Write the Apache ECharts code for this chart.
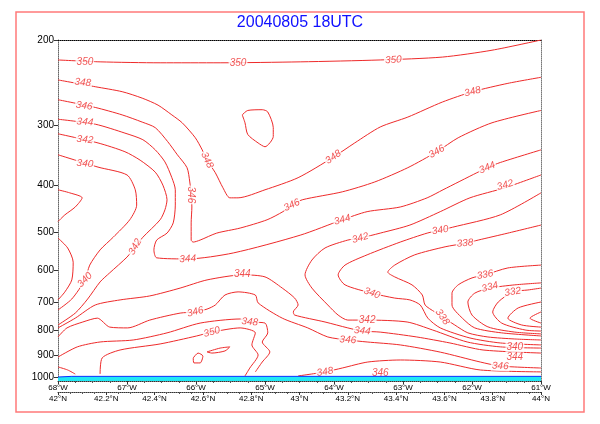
<!DOCTYPE html>
<html><head><meta charset="utf-8">
<script src="https://cdn.jsdelivr.net/npm/echarts@6/dist/echarts.min.js"></script>
<style>html,body{margin:0;padding:0;background:#fff}#c{width:600px;height:424px}</style>
</head><body><div id="c"></div>
<script>
// ---- axis ticks ----
const pressureTicks = [200, 300, 400, 500, 600, 700, 800, 900, 1000];
const lonRange = [-68, -61];
const latRange = [42, 44];

// ---- contour lines: [longitude (deg E, negative = W), pressure hPa] ----
const c350Top = [[-68.00,220],[-67.39,222],[-66.52,223],[-65.65,223],[-64.49,222],[-63.33,220],[-62.43,217],[-61.71,210],[-61.00,200]];
const c350Loop = [[-65.33,286],[-65.25,280],[-65.04,279],[-64.96,282],[-64.88,304],[-64.88,317],[-65.00,333],[-65.10,327],[-65.25,314],[-65.29,297],[-65.33,286]];
const c348 = [[-68.00,242],[-67.46,250],[-67.07,256],[-66.78,264],[-66.55,273],[-66.35,286],[-66.20,297],[-66.01,319],[-65.91,338],[-65.84,355],[-65.72,377],[-65.61,405],[-65.51,425],[-65.39,425],[-65.00,409],[-64.52,386],[-64.01,350],[-63.70,327],[-63.33,303],[-62.93,289],[-62.43,269],[-61.99,256],[-61.48,246],[-61.00,239]];
const c346 = [[-68.00,266],[-67.46,276],[-67.07,286],[-66.78,296],[-66.59,304],[-66.41,325],[-66.27,346],[-66.13,368],[-66.09,394],[-66.07,419],[-66.06,444],[-66.07,479],[-66.07,520],[-66.04,525],[-65.94,520],[-65.70,503],[-65.36,491],[-64.97,472],[-64.74,454],[-64.61,440],[-64.46,429],[-63.88,413],[-63.41,394],[-62.93,368],[-62.51,341],[-62.20,319],[-61.71,297],[-61.00,280]];
const c344 = [[-68.00,292],[-67.46,299],[-67.03,312],[-66.77,322],[-66.59,338],[-66.45,358],[-66.35,386],[-66.30,409],[-66.30,440],[-66.33,479],[-66.42,503],[-66.57,520],[-66.61,545],[-66.57,566],[-66.12,569],[-65.46,553],[-64.49,508],[-63.88,472],[-63.52,454],[-63.04,444],[-62.65,425],[-62.42,409],[-61.93,377],[-61.78,368],[-61.59,359],[-61.00,338]];
const c342Left = [[-68.00,313],[-67.42,327],[-67.03,341],[-66.81,355],[-66.59,376],[-66.48,400],[-66.42,429],[-66.45,450],[-66.52,472],[-66.77,513],[-66.88,537],[-67.00,564],[-67.25,608],[-67.39,635],[-67.57,689],[-67.75,737],[-68.00,780]];
const c340Left = [[-68.00,346],[-67.42,367],[-67.00,381],[-66.88,409],[-66.86,440],[-66.96,472],[-67.20,513],[-67.39,545],[-67.54,586],[-67.61,629],[-67.80,689],[-68.00,726]];
const c338LoopA = [[-68.00,409],[-67.83,415],[-67.65,425],[-67.75,444],[-67.90,461],[-68.00,476]];
const c338Bump = [[-68.00,515],[-67.86,540],[-67.78,578],[-67.80,629],[-67.90,666],[-68.00,692]];
const c344Low = [[-68.00,791],[-67.75,755],[-67.46,709],[-67.10,692],[-66.67,679],[-66.23,654],[-65.84,629],[-65.32,614],[-65.00,620],[-64.75,654],[-64.57,686],[-64.52,709],[-64.59,733],[-64.57,744],[-64.13,769],[-63.80,791],[-63.59,803],[-63.33,807],[-62.80,826],[-62.32,850],[-61.84,879],[-61.00,892]];
const c342Right = [[-61.00,381],[-61.52,405],[-62.03,425],[-62.46,454],[-62.90,484],[-63.33,503],[-63.62,515],[-63.80,520],[-64.13,540],[-64.32,572],[-64.42,614],[-64.32,654],[-64.09,709],[-63.94,744],[-63.80,762],[-63.52,762],[-62.94,769],[-62.57,799],[-62.07,846],[-61.59,866],[-61.00,871]];
const c340Right = [[-61.00,415],[-61.59,461],[-62.28,489],[-62.46,496],[-62.65,503],[-63.04,525],[-63.52,558],[-63.84,586],[-63.94,614],[-63.84,644],[-63.45,670],[-63.12,686],[-62.90,692],[-62.75,709],[-62.64,755],[-62.46,791],[-62.03,830],[-61.59,850],[-61.00,858]];
const c338 = [[-61.00,484],[-61.48,503],[-61.91,520],[-62.10,528],[-62.39,537],[-62.83,558],[-63.12,586],[-63.22,606],[-63.12,620],[-62.87,644],[-62.72,676],[-62.68,709],[-62.54,733],[-62.43,751],[-62.25,780],[-62.06,810],[-61.77,826],[-61.38,834],[-61.00,838]];
const c336 = [[-61.00,586],[-61.48,594],[-61.81,614],[-62.00,623],[-62.20,644],[-62.29,670],[-62.29,709],[-62.14,755],[-61.96,791],[-61.57,810],[-61.00,822]];
const c334 = [[-61.00,638],[-61.38,644],[-61.74,654],[-61.96,670],[-62.06,699],[-62.00,744],[-61.77,787],[-61.38,807],[-61.00,814]];
const c332 = [[-61.00,654],[-61.19,660],[-61.41,666],[-61.62,699],[-61.70,733],[-61.57,773],[-61.23,799],[-61.00,803]];
const c330 = [[-61.00,699],[-61.33,719],[-61.48,755],[-61.28,780],[-61.00,788]];
const c328 = [[-61.00,733],[-61.16,755],[-61.00,773]];
const c346Low = [[-68.00,826],[-67.87,791],[-67.64,769],[-67.43,755],[-67.25,788],[-66.99,791],[-66.67,762],[-66.23,737],[-66.01,733],[-65.84,723],[-65.72,709],[-65.58,676],[-65.39,666],[-65.14,676],[-65.10,702],[-64.75,755],[-64.38,791],[-64.09,826],[-63.80,838],[-63.52,846],[-63.04,858],[-62.46,888],[-61.88,931],[-61.59,949],[-61.00,958]];
const c348Low = [[-68.00,909],[-67.72,866],[-67.39,846],[-66.91,838],[-66.42,810],[-65.94,773],[-65.36,758],[-65.22,769],[-65.00,773],[-64.96,810],[-65.04,846],[-64.93,887],[-65.04,931],[-65.14,976]];
const c348Bottom = [[-64.52,995],[-64.13,976],[-63.88,958],[-63.51,931],[-63.04,922],[-62.46,931],[-61.88,967],[-61.00,976]];
const c350Low = [[-67.39,986],[-67.36,913],[-67.10,879],[-66.52,854],[-65.99,822],[-65.77,807],[-65.36,791],[-65.14,810],[-65.19,858],[-65.10,900],[-65.22,958],[-65.29,995]];
const c350LoopA = [[-66.04,913],[-65.97,892],[-65.90,905],[-65.94,935],[-66.03,935],[-66.04,913]];
const c350LoopB = [[-65.84,887],[-65.65,871],[-65.51,866],[-65.58,883],[-65.77,892],[-65.84,887]];
const c352Corner = [[-68.00,953],[-67.86,967],[-67.75,986]];
const surface = [[-68.00,1000],[-67.80,997],[-61.00,997]];

// ---- contour labels: [lon, pressure, text] ----
const contourLabels = [
  [-67.61,222,'350'],[-65.39,223,'350'],[-63.14,220,'350'],
  [-67.64,245,'348'],[-65.84,355,'348'],[-64.01,350,'348'],[-61.99,256,'348'],
  [-67.62,274,'346'],[-66.07,419,'346'],[-64.61,440,'346'],[-62.51,341,'346'],
  [-67.61,296,'344'],[-66.12,569,'344'],[-63.88,472,'344'],[-61.78,368,'344'],
  [-65.33,611,'344'],[-63.59,803,'344'],[-61.38,910,'344'],
  [-67.61,322,'342'],[-66.88,537,'342'],[-63.62,515,'342'],[-61.52,400,'342'],[-63.52,762,'342'],
  [-67.61,361,'340'],[-67.61,629,'340'],[-62.46,496,'340'],[-63.45,670,'340'],[-61.38,866,'340'],
  [-62.10,528,'338'],[-62.43,751,'338'],
  [-61.81,614,'336'],[-61.74,651,'334'],[-61.41,666,'332'],
  [-66.01,733,'346'],[-63.80,838,'346'],[-61.59,949,'346'],[-63.33,980,'346'],
  [-65.22,769,'348'],[-64.13,976,'348'],
  [-65.77,807,'350']
];
const labelAngles = [0,0,3, -5,-65,35,15, -8,-90,25,30, -5,3,15,22, 0,-5,0, -5,60,15,15,0, -5,45,10,-20,0, 5,-55, 10,15,10, 15,-3,-3,0, -5,10, 15];

const contourLines = [c350Top,c350Loop,c348,c346,c344,c342Left,c340Left,c338LoopA,c338Bump,c344Low,c342Right,c340Right,c338,c336,c334,c332,c330,c328,c346Low,c348Low,c348Bottom,c350Low,c350LoopA,c350LoopB,c352Corner];

const RED = '#ee2a2a';
const chart = echarts.init(document.getElementById('c'), null, {renderer:'canvas'});
const yMax = 1019.3;
const FONT = 'Liberation Sans';

const series = contourLines.map(pts => ({
  type:'line', data:pts, xAxisIndex:0, yAxisIndex:0, symbol:'none', smooth:0.25,
  lineStyle:{color:RED, width:1}, silent:true, z:2, animation:false
}));
series.push({
  type:'line', data:surface, xAxisIndex:0, yAxisIndex:0, symbol:'none',
  lineStyle:{color:'#1030ff', width:1}, z:6, animation:false,
  areaStyle:{color:'#22e8f4', opacity:1, origin:'end'}
});
series.push({
  type:'scatter', xAxisIndex:0, yAxisIndex:0, symbolSize:0, z:5, animation:false,
  data: contourLabels.map((d,i) => ({value:d, label:{rotate:labelAngles[i]}})),
  label:{show:true, position:'inside', formatter:p => p.value[2], color:RED,
    fontSize:10, fontStyle:'italic', fontFamily:FONT, backgroundColor:'#fff', padding:[0,1]}
});

chart.setOption({
  animation:false,
  backgroundColor:'#fff',
  title:{text:'20040805 18UTC', left:'center', top:10,
    textStyle:{color:'#1010ff', fontSize:16, fontWeight:'normal', fontFamily:FONT}},
  graphic:[{type:'rect', shape:{x:16, y:12, width:568, height:400},
    style:{fill:'none', stroke:'#ff7a7a', lineWidth:1.5}, z:-1}],
  grid:{left:58, right:59, top:40, bottom:43, containLabel:false},
  xAxis:[
    {type:'value', min:lonRange[0], max:lonRange[1], interval:1, position:'bottom',
      axisLine:{lineStyle:{color:'#333', type:'dotted', width:1}},
      axisTick:{length:3, inside:false, lineStyle:{color:'#333'}},
      minorTick:{show:true, splitNumber:4, length:2, lineStyle:{color:'#555'}},
      splitLine:{show:false},
      axisLabel:{fontSize:8, fontFamily:FONT, color:'#000', margin:3,
        formatter:v => Math.abs(v) + '°W'}},
    {type:'value', min:latRange[0], max:latRange[1], interval:0.2, position:'bottom', offset:11,
      axisLine:{lineStyle:{color:'#333', type:'dotted', width:1}},
      axisTick:{length:3, lineStyle:{color:'#333'}},
      minorTick:{show:true, splitNumber:4, length:2, lineStyle:{color:'#555'}},
      splitLine:{show:false},
      axisLabel:{fontSize:8, fontFamily:FONT, color:'#000', margin:3,
        formatter:v => (Math.round(v*10)/10) + '°N'}},
    {type:'value', min:lonRange[0], max:lonRange[1], position:'top',
      axisLine:{lineStyle:{color:'#000', type:'dotted', width:1}},
      axisTick:{show:false}, axisLabel:{show:false}, splitLine:{show:false}}
  ],
  yAxis:[
    {type:'log', logBase:10, min:200, max:yMax, inverse:true, position:'left',
      axisLine:{show:true, lineStyle:{color:'#666', type:'dotted', width:1}},
      axisTick:{show:true, length:4, customValues:pressureTicks, lineStyle:{color:'#333'}},
      splitLine:{show:false},
      axisLabel:{customValues:pressureTicks, fontSize:10, fontFamily:FONT, color:'#000', margin:4,
        formatter:v => String(Math.round(v))}},
    {type:'log', logBase:10, min:200, max:yMax, inverse:true, position:'right',
      axisLine:{show:true, lineStyle:{color:'#777', type:'dotted', width:1}},
      axisTick:{show:false}, axisLabel:{show:false}, splitLine:{show:false}}
  ],
  series: series
});
</script></body></html>
